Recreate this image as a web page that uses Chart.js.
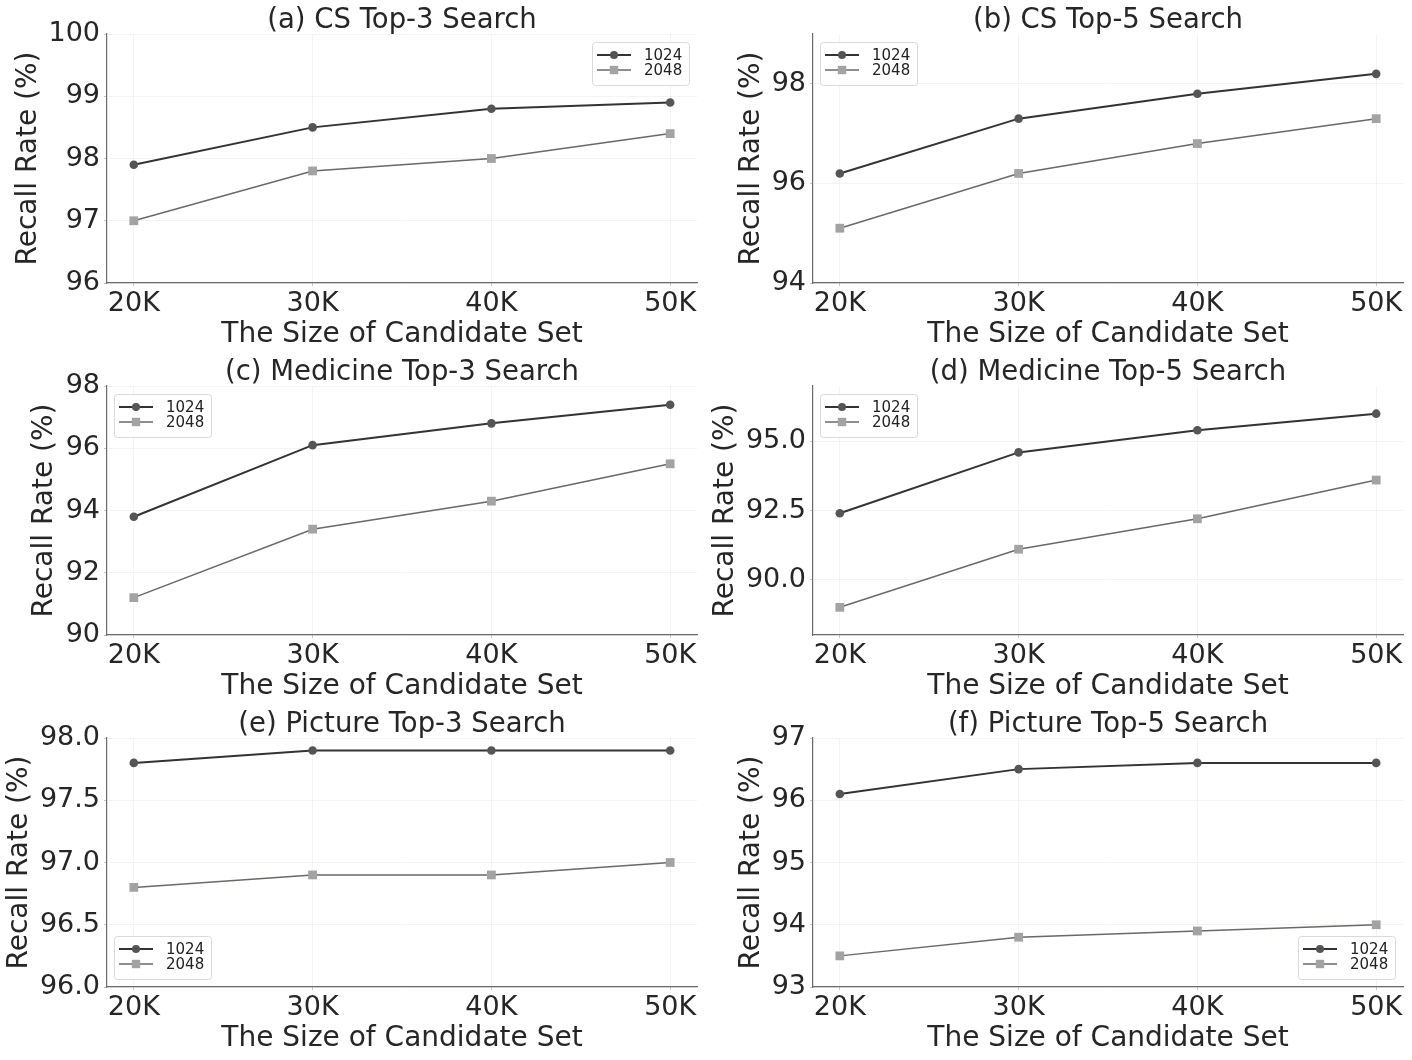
<!DOCTYPE html>
<html>
<head>
<meta charset="utf-8">
<script src="https://cdn.jsdelivr.net/npm/chart.js@4.4.1/dist/chart.umd.min.js"></script>
<style>
  body { margin: 0; background: #fff; width: 1412px; height: 1060px; position: relative; overflow: hidden; }
  canvas { position: absolute; }
</style>
</head>
<body>
<script>
// Candidate set sizes (thousands)
const sizes = [20, 30, 40, 50];
const seriesNames = ['1024', '2048'];

const titles = [
    '(a) CS Top-3 Search',
    '(b) CS Top-5 Search',
    '(c) Medicine Top-3 Search',
    '(d) Medicine Top-5 Search',
    '(e) Picture Top-3 Search',
    '(f) Picture Top-5 Search'
];

// Recall rate (%) per panel
const recall1024 = [
    [97.9, 98.5, 98.8, 98.9],
    [96.2, 97.3, 97.8, 98.2],
    [93.8, 96.1, 96.8, 97.4],
    [92.4, 94.6, 95.4, 96.0],
    [97.8, 97.9, 97.9, 97.9],
    [96.1, 96.5, 96.6, 96.6]
];
const recall2048 = [
    [97.0, 97.8, 98.0, 98.4],
    [95.1, 96.2, 96.8, 97.3],
    [91.2, 93.4, 94.3, 95.5],
    [89.0, 91.1, 92.2, 93.6],
    [96.8, 96.9, 96.9, 97.0],
    [93.5, 93.8, 93.9, 94.0]
];

// y axis ranges and tick values
const yMin = [96, 94, 90, 88, 96, 93];
const yMax = [100, 99, 98, 97, 98, 97];
const yTicks = [
    [96, 97, 98, 99, 100],
    [94, 96, 98],
    [90, 92, 94, 96, 98],
    [90, 92.5, 95],
    [96, 96.5, 97, 97.5, 98],
    [93, 94, 95, 96, 97]
];
const yDecimals = [0, 0, 0, 1, 1, 0];

const xLabel = 'The Size of Candidate Set';
const yLabel = 'Recall Rate (%)';

// layout per panel
const legendCorner = ['ne', 'nw', 'nw', 'nw', 'sw', 'se'];
const yTitleCenter = [29, 46, 45, 20, 20, 46];

const FONT = "'DejaVu Sans', sans-serif";
const TEXT = '#262626';
const PANEL_W = 706, PANEL_H = 352;

const lineStyles = [
    { line: '#333333', point: '#555555', style: 'circle', radius: 4.3, width: 2 },
    { line: '#6c6863', point: '#a3a3a3', style: 'rect', radius: 6.2, width: 1.5 }
];

// draws the legend inside the plot area
const insideLegend = {
    id: 'insideLegend',
    afterDraw(chart, args, opts) {
        const { ctx, chartArea: a } = chart;
        const w = 97, h = 43;
        const x = opts.corner.includes('e') ? a.right - 8 - w : a.left + 7;
        const y = opts.corner.includes('n') ? a.top + 8 : a.bottom - 8 - h;
        ctx.save();
        ctx.beginPath();
        ctx.roundRect(Math.round(x) + 0.5, Math.round(y) + 0.5, w, h, 3);
        ctx.fillStyle = 'rgba(255,255,255,0.85)';
        ctx.fill();
        ctx.strokeStyle = '#dadada';
        ctx.lineWidth = 1;
        ctx.stroke();
        chart.data.datasets.forEach((ds, i) => {
            const s = lineStyles[i];
            const cy = y + 13 + i * 15;
            ctx.beginPath();
            ctx.moveTo(x + 5, cy);
            ctx.lineTo(x + 39, cy);
            ctx.strokeStyle = s.line;
            ctx.lineWidth = s.width;
            ctx.stroke();
            ctx.fillStyle = s.point;
            if (s.style === 'circle') {
                ctx.beginPath();
                ctx.arc(x + 22, cy, 4, 0, Math.PI * 2);
                ctx.fill();
            } else {
                ctx.fillRect(x + 22 - 4.2, cy - 4.2, 8.4, 8.4);
            }
            ctx.fillStyle = '#222';
            ctx.font = '15px ' + FONT;
            ctx.textBaseline = 'middle';
            ctx.textAlign = 'left';
            ctx.fillText(ds.label, x + 52, cy + 1);
        });
        ctx.restore();
    }
};

titles.forEach((title, p) => {
    const canvas = document.createElement('canvas');
    canvas.width = PANEL_W;
    canvas.height = PANEL_H;
    canvas.style.left = (p % 2) * PANEL_W + 'px';
    canvas.style.top = Math.floor(p / 2) * PANEL_H + 'px';
    document.body.appendChild(canvas);

    const series = [recall1024[p], recall2048[p]];
    const ticks = yTicks[p];

    new Chart(canvas.getContext('2d'), {
        type: 'line',
        data: {
            datasets: series.map((vals, i) => ({
                label: seriesNames[i],
                data: sizes.map((s, j) => ({ x: s, y: vals[j] })),
                borderColor: lineStyles[i].line,
                borderWidth: lineStyles[i].width,
                pointStyle: lineStyles[i].style,
                pointRadius: lineStyles[i].radius,
                pointBackgroundColor: lineStyles[i].point,
                pointBorderColor: lineStyles[i].point,
                pointBorderWidth: 0,
                tension: 0,
                fill: false
            }))
        },
        options: {
            responsive: false,
            animation: false,
            layout: { padding: { left: 0, right: 9, top: 0, bottom: 0 } },
            plugins: {
                legend: { display: false },
                tooltip: { enabled: false },
                title: {
                    display: true,
                    fullSize: false,
                    text: title,
                    color: TEXT,
                    font: { family: FONT, size: 27.5, weight: 'normal' },
                    padding: { top: 4, bottom: -3 }
                },
                insideLegend: { corner: legendCorner[p] }
            },
            scales: {
                x: {
                    type: 'linear',
                    min: 18.5,
                    max: 51.5,
                    afterBuildTicks: scale => { scale.ticks = sizes.map(v => ({ value: v })); },
                    afterFit: scale => { scale.height = 69; },
                    ticks: {
                        color: TEXT,
                        font: { family: FONT, size: 27 },
                        padding: 2,
                        maxRotation: 0,
                        callback: v => v + 'K'
                    },
                    grid: { color: 'rgba(0,0,0,0.045)', tickColor: '#c8c8c8', tickLength: 3 },
                    border: { color: '#6a6a6a', width: 1.2 },
                    title: {
                        display: true,
                        text: xLabel,
                        color: TEXT,
                        font: { family: FONT, size: 28 },
                        padding: { top: 0, bottom: 0 }
                    }
                },
                y: {
                    min: yMin[p],
                    max: yMax[p],
                    afterBuildTicks: scale => { scale.ticks = ticks.map(v => ({ value: v })); },
                    afterFit: scale => { scale.width = 107; },
                    ticks: {
                        color: TEXT,
                        font: { family: FONT, size: 27 },
                        padding: 4,
                        callback: v => Number(v).toFixed(yDecimals[p])
                    },
                    grid: { color: 'rgba(0,0,0,0.045)', tickColor: '#c8c8c8', tickLength: 3 },
                    border: { color: '#6a6a6a', width: 1.2 },
                    title: {
                        display: true,
                        text: yLabel,
                        color: TEXT,
                        font: { family: FONT, size: 28 },
                        padding: { top: yTitleCenter[p] - 16.8, bottom: 0 }
                    }
                }
            }
        },
        plugins: [insideLegend]
    });
});
</script>
</body>
</html>
